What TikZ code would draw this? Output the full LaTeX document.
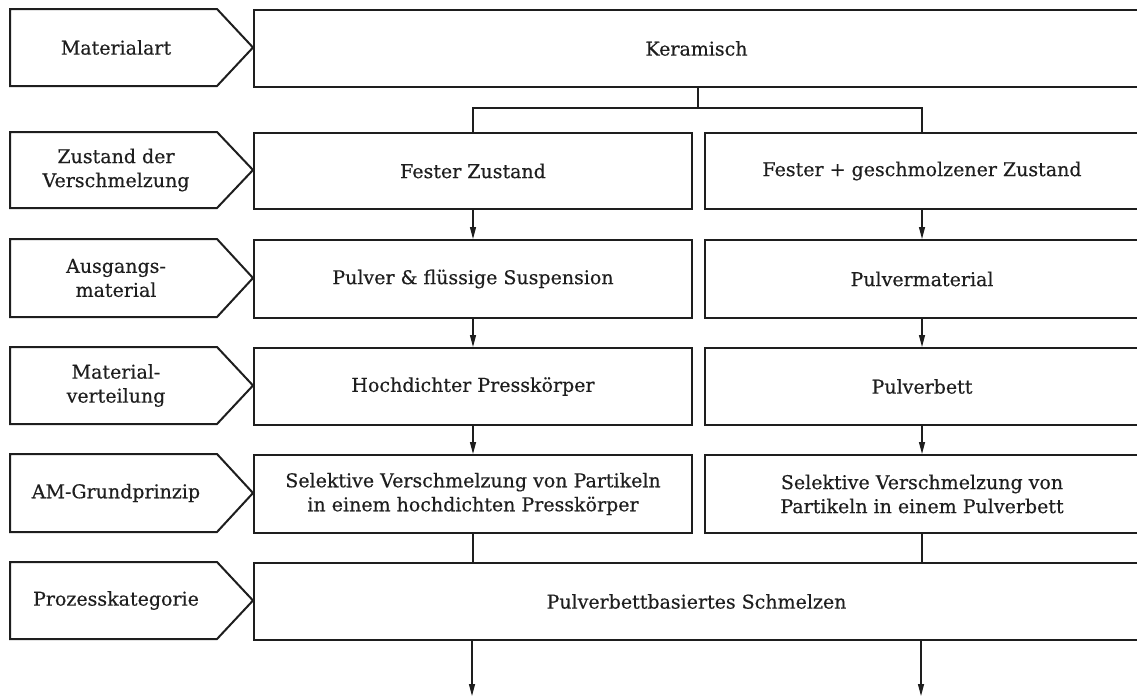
\documentclass[tikz,border=0pt]{standalone}
\usepackage{fontspec}
\setmainfont[FakeBold=0.4]{DejaVu Serif}
\usetikzlibrary{arrows.meta}
\definecolor{ink}{HTML}{1E1E1E}
\begin{document}
\begin{tikzpicture}[x=1pt,y=-1pt,
  every node/.style={font=\fontsize{19}{24}\selectfont, text=ink},
  box/.style={draw=ink, line width=2pt, anchor=north west, inner sep=0pt, align=center},
  tag/.style={draw=ink, line width=2pt, line join=miter},
  link/.style={draw=ink, line width=1.3pt},
  arr/.style={link, -{Triangle[length=12pt,width=6pt]}}]
\useasboundingbox (0,0) rectangle (1137,697);

% row headings (arrow-shaped tags)
\foreach \t/\b/\txt [count=\i] in {
    9/86/Materialart,
    132/208/{Zustand der\\Verschmelzung},
    239/317/{Ausgangs-\\material},
    347/424/{Material-\\verteilung},
    454/532/AM-Grundprinzip,
    562/639/Prozesskategorie}{
  \draw[tag] (10,\t) -- (217,\t) -- (253,{(\t+\b)/2}) -- (217,\b) -- (10,\b) -- cycle;
  \node[align=center] (tag\i) at (116,{(\t+\b)/2}) {\txt};
}

% content boxes
\node[box, minimum width=885pt, minimum height=77pt] (ker) at (253,9) {Keramisch};
\node[box, minimum width=438pt, minimum height=76pt] (fz)  at (253,132) {Fester Zustand};
\node[box, minimum width=434pt, minimum height=76pt] (fg)  at (704,132) {Fester + geschmolzener Zustand};
\node[box, minimum width=438pt, minimum height=78pt] (pfs) at (253,239) {Pulver \& flüssige Suspension};
\node[box, minimum width=434pt, minimum height=78pt] (pm)  at (704,239) {Pulvermaterial};
\node[box, minimum width=438pt, minimum height=77pt] (hp)  at (253,347) {Hochdichter Presskörper};
\node[box, minimum width=434pt, minimum height=77pt] (pbt) at (704,347) {Pulverbett};
\node[box, minimum width=438pt, minimum height=78pt] (sv1) at (253,454) {Selektive Verschmelzung von Partikeln\\in einem hochdichten Presskörper};
\node[box, minimum width=434pt, minimum height=78pt] (sv2) at (704,454) {Selektive Verschmelzung von\\Partikeln in einem Pulverbett};
\node[box, minimum width=885pt, minimum height=77pt] (pbs) at (253,562) {Pulverbettbasiertes Schmelzen};

% branching below the material type
\coordinate (split) at (698,108);
\draw[link] (ker.south -| split) -- (split);
\draw[link] (fz.north) |- (split) -| (fg.north);

% vertical flow
\draw[arr] (fz.south) -- (pfs.north);
\draw[arr] (fg.south) -- (pm.north);
\draw[arr] (pfs.south) -- (hp.north);
\draw[arr] (pm.south) -- (pbt.north);
\draw[arr] (hp.south) -- (sv1.north);
\draw[arr] (pbt.south) -- (sv2.north);
\draw[link] (sv1.south) -- (pbs.north -| sv1.south);
\draw[link] (sv2.south) -- (pbs.north -| sv2.south);

% outputs leaving the process category
\coordinate (out1) at (472,696);
\coordinate (out2) at (921,696);
\draw[arr] (pbs.south -| out1) -- (out1);
\draw[arr] (pbs.south -| out2) -- (out2);
\end{tikzpicture}
\end{document}
